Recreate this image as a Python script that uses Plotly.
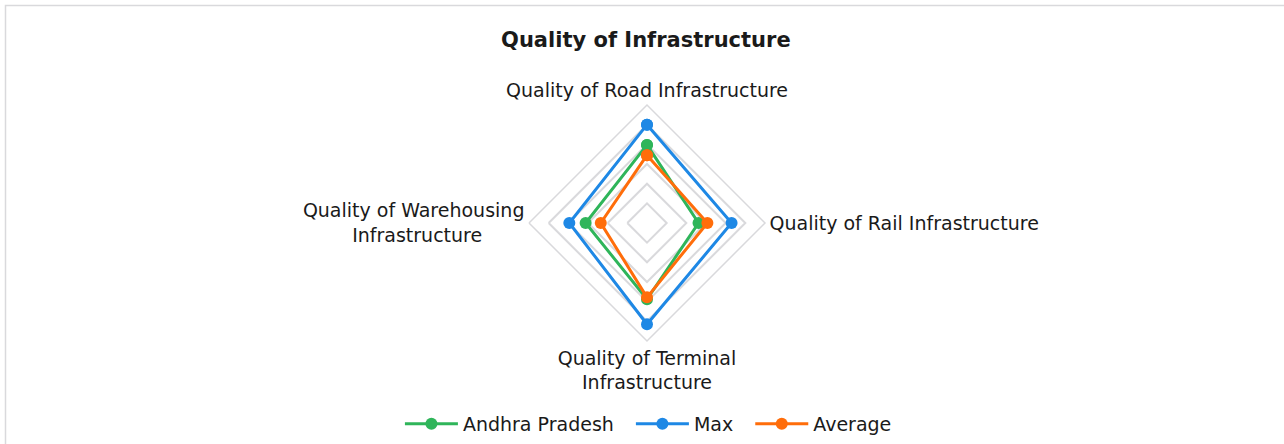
import plotly.graph_objects as go

categories = [
    "Quality of Road Infrastructure",
    "Quality of Rail Infrastructure",
    "Quality of Terminal<br>Infrastructure",
    "Quality of Warehousing<br>Infrastructure" + "\u00a0" * 7,
]
andhra_pradesh = [3.97, 2.62, 3.88, 3.12]
max_values = [5.0, 4.3, 5.15, 3.95]
average_values = [3.45, 3.07, 3.78, 2.35]

series_names = ["Andhra Pradesh", "Max", "Average"]
series_values = [andhra_pradesh, max_values, average_values]
series_colors = ["#2fb55a", "#1e88e5", "#ff6d0a"]

FONT = "DejaVu Sans"
PAD = "\u00a0\u00a0"
fig = go.Figure()
for i, (name, vals, color) in enumerate(zip(series_names, series_values, series_colors)):
    fig.add_trace(go.Scatterpolar(
        r=vals + vals[:1],
        theta=categories + categories[:1],
        name=name + (PAD if i < len(series_names) - 1 else ""),
        mode="lines+markers",
        line=dict(color=color, width=3),
        marker=dict(color=color, size=12),
    ))

W, H = 1284, 444
cx, cy, R = 647, 223, 118
fig.update_layout(
    width=W, height=H,
    margin=dict(l=0, r=0, t=0, b=0),
    paper_bgcolor="white",
    font=dict(family=FONT, size=19, color="#1a1a1a"),
    title=dict(text="Quality of Infrastructure", x=0.503, xanchor="center",
               y=1 - 40 / H, yanchor="middle",
               font=dict(family=FONT, size=21, color="#1a1a1a", weight="bold")),
    polar=dict(
        domain=dict(x=[(cx - R) / W, (cx + R) / W], y=[(H - cy - R) / H, (H - cy + R) / H]),
        gridshape="linear",
        bgcolor="white",
        radialaxis=dict(range=[0, 6], dtick=1, showticklabels=False, showline=False,
                        ticks="", gridcolor="#d9d9dc", gridwidth=1.5),
        angularaxis=dict(rotation=90, direction="clockwise", showgrid=False,
                         showline=True, linecolor="#d9d9dc", linewidth=1.5, ticks="",
                         tickfont=dict(family=FONT, size=19, color="#1a1a1a")),
    ),
    legend=dict(orientation="h", x=0.505, xanchor="center", y=20 / H, yanchor="middle",
                itemwidth=53, font=dict(family=FONT, size=19, color="#1a1a1a")),
    shapes=[dict(type="rect", xref="paper", yref="paper", x0=5.5 / W, x1=1.01,
                 y0=-0.01, y1=1 - 5.5 / H, line=dict(color="#d9d9dc", width=1.5))],
)

fig.write_html("out.html", config={"displayModeBar": False},
               post_script="document.body.style.margin='0';document.body.style.overflow='hidden';")
